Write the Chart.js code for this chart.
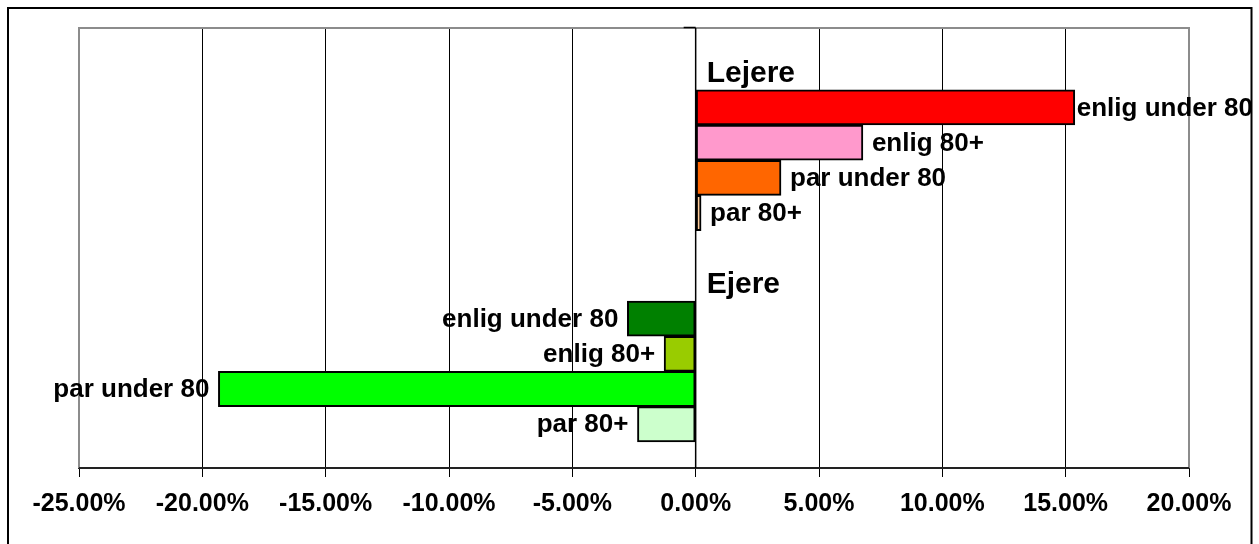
<!DOCTYPE html>
<html>
<head>
<meta charset="utf-8">
<script src="https://cdn.jsdelivr.net/npm/chart.js@4"></script>
<style>
  body { margin: 0; background: #fff; }
  canvas { display: block; }
</style>
</head>
<body>
<canvas id="grafica" width="1259" height="544"></canvas>
<script>
// data (percent)
const groups = ["Lejere", "Ejere"];
const categories = ["enlig under 80", "enlig 80+", "par under 80", "par 80+"];
const lejereValues = [15.37, 6.78, 3.46, 0.22];
const ejereValues = [-2.77, -1.28, -19.35, -2.36];
const lejereColors = ["#FF0000", "#FF99CC", "#FF6600", "#FFCC99"];
const ejereColors = ["#008000", "#99CC00", "#00FF00", "#CCFFCC"];
const xTicks = [-25, -20, -15, -10, -5, 0, 5, 10, 15, 20];

const groupValues = [lejereValues, ejereValues];
const groupColors = [lejereColors, ejereColors];
const rowsPerGroup = categories.length + 2; // header row + bars + blank row

// one row per bar, header row above each group
const points = [];
const colors = [];
const barLabels = [];
groups.forEach(function (g, gi) {
  groupValues[gi].forEach(function (v, i) {
    points.push({ x: v, y: gi * rowsPerGroup + 1 + i });
    colors.push(groupColors[gi][i]);
    barLabels.push(categories[i]);
  });
});
const rowTicks = [];
for (let r = 0; r < groups.length * rowsPerGroup; r++) rowTicks.push({ value: r });

const labelFont = "bold 26px 'Liberation Sans', Arial, sans-serif";
const headerFont = "bold 30px 'Liberation Sans', Arial, sans-serif";

const pynt = {
  id: "pynt",
  beforeDatasetsDraw(chart) {
    const ctx = chart.ctx;
    const a = chart.chartArea;
    const x0 = chart.scales.x.getPixelForValue(0);
    ctx.save();
    // plot area border
    ctx.strokeStyle = "#8c8c8c";
    ctx.lineWidth = 2;
    ctx.beginPath();
    ctx.moveTo(a.left, a.bottom);
    ctx.lineTo(a.left, a.top);
    ctx.lineTo(a.right, a.top);
    ctx.lineTo(a.right, a.bottom);
    ctx.stroke();
    // bottom axis line
    ctx.strokeStyle = "#222";
    ctx.beginPath();
    ctx.moveTo(a.left, a.bottom);
    ctx.lineTo(a.right, a.bottom);
    ctx.stroke();
    // zero axis with small tick at top
    ctx.strokeStyle = "#000";
    ctx.lineWidth = 1.5;
    ctx.beginPath();
    ctx.moveTo(x0, a.top);
    ctx.lineTo(x0, a.bottom);
    ctx.moveTo(x0 - 12, a.top - 0.5);
    ctx.lineTo(x0, a.top - 0.5);
    ctx.stroke();
    ctx.restore();
  },
  afterDatasetsDraw(chart) {
    const ctx = chart.ctx;
    const meta = chart.getDatasetMeta(0);
    const x0 = chart.scales.x.getPixelForValue(0);
    const ys = chart.scales.y;
    ctx.save();
    ctx.fillStyle = "#000";
    ctx.font = labelFont;
    ctx.textBaseline = "middle";
    meta.data.forEach(function (bar, i) {
      const txt = barLabels[i];
      const w = ctx.measureText(txt).width;
      if (points[i].x >= 0) {
        ctx.textAlign = "left";
        ctx.fillText(txt, Math.min(bar.x + 9, chart.width - 6 - w), bar.y + 1);
      } else {
        ctx.textAlign = "right";
        ctx.fillText(txt, bar.x - 9, bar.y + 1);
      }
    });
    // group headers
    ctx.font = headerFont;
    ctx.textAlign = "left";
    ctx.textBaseline = "alphabetic";
    groups.forEach(function (g, gi) {
      ctx.fillText(g, x0 + 11, ys.getPixelForValue(gi * rowsPerGroup) + 10);
    });
    ctx.restore();
  },
  afterDraw(chart) {
    const ctx = chart.ctx;
    ctx.save();
    ctx.strokeStyle = "#000";
    ctx.lineWidth = 2;
    ctx.strokeRect(8, 8, chart.width - 16 + 0.5, chart.height);
    ctx.restore();
  },
};

document.addEventListener("DOMContentLoaded", function () {
  const ctx = document.getElementById("grafica").getContext("2d");
  new Chart(ctx, {
    type: "bar",
    data: {
      datasets: [
        {
          data: points,
          backgroundColor: colors,
          borderColor: "#000",
          borderWidth: 2,
          borderSkipped: false,
          barPercentage: 1,
          categoryPercentage: 1,
        },
      ],
    },
    options: {
      indexAxis: "y",
      responsive: false,
      animation: false,
      layout: { padding: { left: 79, top: 28, right: 70, bottom: 0 } },
      plugins: { legend: { display: false }, tooltip: { enabled: false } },
      scales: {
        x: {
          type: "linear",
          min: xTicks[0],
          max: xTicks[xTicks.length - 1],
          afterBuildTicks(scale) {
            scale.ticks = xTicks.map(function (v) { return { value: v }; });
          },
          afterFit(scale) { scale.height = 76; },
          grid: {
            color: "#000",
            lineWidth: 1,
            tickLength: 9,
            tickColor: "#000",
          },
          border: { display: true, color: "#222", width: 2 },
          ticks: {
            padding: 12,
            color: "#000",
            font: { family: "'Liberation Sans', Arial, sans-serif", size: 25, weight: "bold" },
            callback: function (v) { return v.toFixed(2) + "%"; },
          },
        },
        y: {
          type: "linear",
          reverse: true,
          offset: false,
          min: -1.256,
          max: 11.244,
          afterBuildTicks(scale) { scale.ticks = rowTicks.slice(); },
          display: false,
        },
      },
    },
    plugins: [pynt],
  });
});
</script>
</body>
</html>
